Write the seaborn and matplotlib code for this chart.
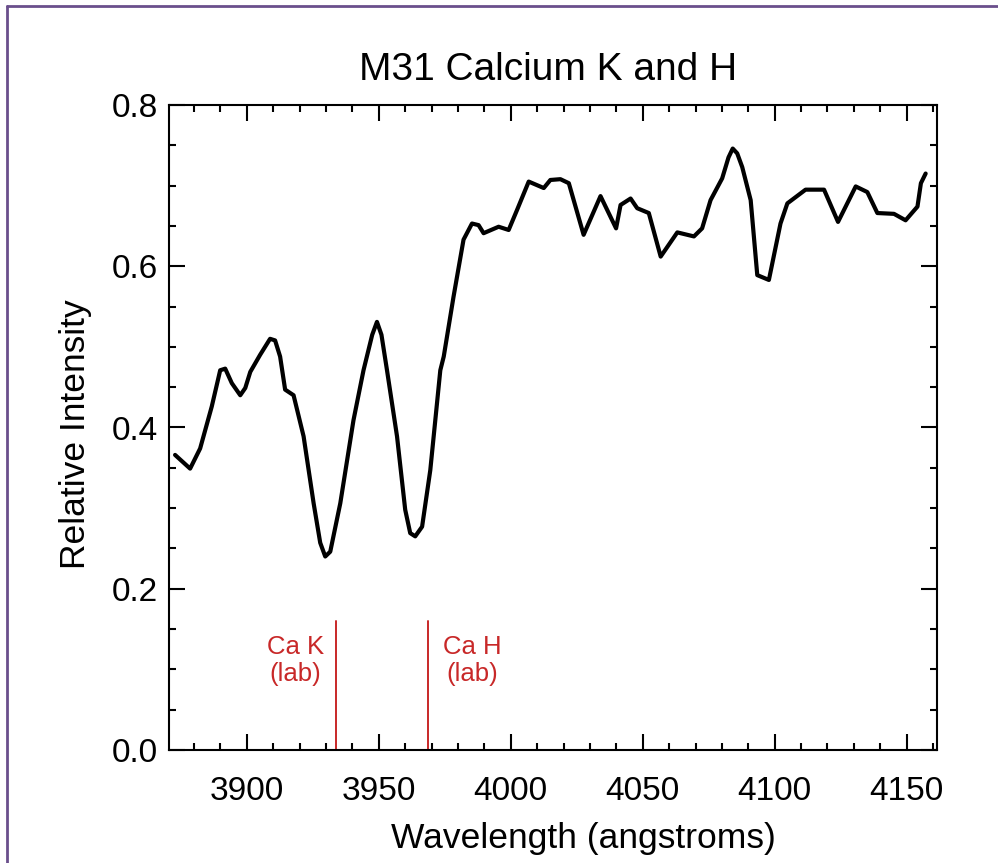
import numpy as np
import matplotlib
matplotlib.use('Agg')
import matplotlib.pyplot as plt
from matplotlib.lines import Line2D
from matplotlib.ticker import MultipleLocator
import pandas as pd
import seaborn as sns

# spectrum (wavelength in angstroms, relative intensity)
wavelength = [3872.8, 3878.5, 3882.3, 3886.7, 3889.9, 3891.8, 3894.3, 3897.5,
              3899.4, 3901.3, 3905.0, 3906.9, 3908.8, 3910.7, 3912.6, 3914.5,
              3917.7, 3921.5, 3925.3, 3927.8, 3929.7, 3931.6, 3935.4, 3940.4,
              3944.2, 3947.5, 3949.3, 3951.0, 3953.1, 3956.9, 3960.0, 3961.9,
              3963.8, 3966.4, 3969.5, 3973.3, 3974.6, 3978.3, 3982.1, 3985.3,
              3987.8, 3989.7, 3995.4, 3999.2, 4002.4, 4006.8, 4012.5, 4015.0,
              4018.8, 4022.0, 4027.6, 4034.0, 4039.9, 4041.6, 4045.4, 4047.9,
              4052.3, 4056.8, 4063.1, 4069.4, 4072.5, 4075.7, 4080.1, 4082.5,
              4084.1, 4085.8, 4087.7, 4090.9, 4093.4, 4097.8, 4102.2, 4104.8,
              4111.7, 4118.7, 4124.0, 4130.7, 4135.1, 4138.9, 4145.2, 4149.6,
              4154.1, 4155.4, 4157.2]
intensity = [0.366, 0.349, 0.374, 0.426, 0.471, 0.473, 0.455, 0.440,
             0.449, 0.469, 0.490, 0.500, 0.510, 0.508, 0.488, 0.447,
             0.440, 0.389, 0.306, 0.257, 0.240, 0.246, 0.306, 0.409,
             0.471, 0.515, 0.531, 0.515, 0.471, 0.389, 0.298, 0.269,
             0.265, 0.277, 0.347, 0.471, 0.488, 0.562, 0.633, 0.653,
             0.651, 0.641, 0.649, 0.645, 0.670, 0.705, 0.697, 0.707,
             0.708, 0.703, 0.639, 0.687, 0.647, 0.676, 0.684, 0.672,
             0.666, 0.612, 0.642, 0.637, 0.647, 0.682, 0.709, 0.735,
             0.746, 0.740, 0.723, 0.682, 0.589, 0.583, 0.653, 0.678,
             0.695, 0.695, 0.655, 0.699, 0.692, 0.666, 0.665, 0.657,
             0.674, 0.703, 0.715]

# laboratory wavelengths of the calcium lines
lab_names = ['Ca K\n(lab)', 'Ca H\n(lab)']
lab_wave = [3933.7, 3968.5]
lab_top = 0.16
label_x = [3918.3, 3985.3]
label_y = 0.111

red = '#c82828'
purple = '#6a4f8c'

df = pd.DataFrame({'wave': wavelength, 'flux': intensity})

sns.set_style('ticks')
plt.rcParams['font.family'] = ['Liberation Sans', 'DejaVu Sans']
plt.rcParams['text.color'] = 'black'
plt.rcParams['axes.labelcolor'] = 'black'
plt.rcParams['xtick.color'] = 'black'
plt.rcParams['ytick.color'] = 'black'

fig = plt.figure(figsize=(9.98, 8.63), dpi=100)
ax = fig.add_axes([169/998, 1-750/863, (937-169)/998, (750-105)/863])

sns.lineplot(data=df, x='wave', y='flux', ax=ax, color='black', lw=3.0,
             sort=False, estimator=None)
ax.lines[-1].set_solid_joinstyle('round')
ax.lines[-1].set_solid_capstyle('round')

for w in lab_wave:
    ax.plot([w, w], [0, lab_top], color=red, lw=1.4)
for name, lx in zip(lab_names, label_x):
    ax.text(lx, label_y, name, color=red, fontsize=18.5, ha='center', va='center',
            multialignment='center', linespacing=1.2)

ax.set_xlim(3870.5, 4161.5)
ax.set_ylim(0, 0.8)
ax.xaxis.set_major_locator(MultipleLocator(50))
ax.xaxis.set_minor_locator(MultipleLocator(10))
ax.yaxis.set_major_locator(MultipleLocator(0.2))
ax.yaxis.set_minor_locator(MultipleLocator(0.05))
ax.yaxis.set_major_formatter(matplotlib.ticker.FormatStrFormatter('%.1f'))

ax.tick_params(which='both', direction='in', top=True, right=True, width=1.5, color='black')
ax.tick_params(which='major', length=11.5)
ax.tick_params(which='minor', length=5)
ax.tick_params(axis='x', which='major', labelsize=24, pad=19)
ax.tick_params(axis='y', which='major', labelsize=24, pad=8)
for s in ax.spines.values():
    s.set_linewidth(1.5)
    s.set_color('black')

ax.set_xlabel('Wavelength (angstroms)', fontsize=25.5)
ax.set_ylabel('Relative Intensity', fontsize=25.5)
ax.xaxis.set_label_coords(0.539, -0.112)
ax.yaxis.set_label_coords(-0.1, 0.49)
ax.set_title('M31 Calcium K and H', fontsize=28, pad=18, x=0.493)

# purple frame along the top and left edges
fig.add_artist(Line2D([6.5/998, 1], [1-6.5/863, 1-6.5/863], transform=fig.transFigure,
                      color=purple, lw=2))
fig.add_artist(Line2D([6.5/998, 6.5/998], [0, 1-6.5/863], transform=fig.transFigure,
                      color=purple, lw=2))

fig.savefig('out.png', dpi=100)
